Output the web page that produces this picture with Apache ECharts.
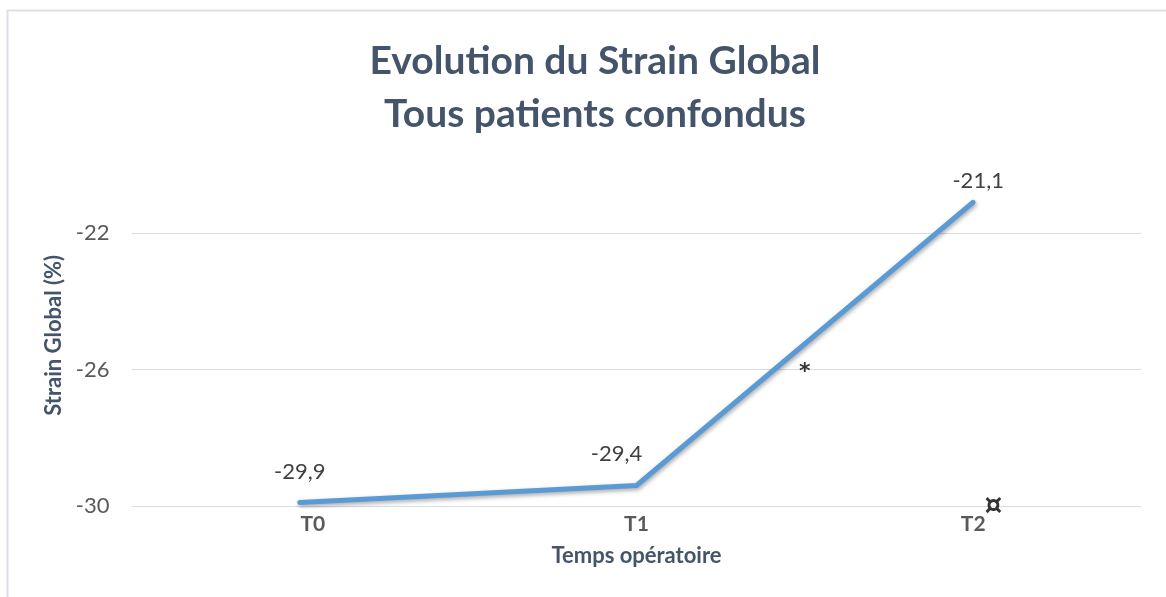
<!DOCTYPE html>
<html><head><meta charset="utf-8">
<script src="https://cdn.jsdelivr.net/npm/echarts@6/dist/echarts.min.js"></script>
<style>html,body{margin:0;padding:0;background:#fff}#c{width:1166px;height:597px}</style>
</head><body><div id="c"></div>
<script>
var categories = ['T0', 'T1', 'T2'];
var strainValues = [-29.9, -29.4, -21.1];
var yTicks = [-30, -26, -22];
var annotationX = [1.5, 2.06];
var annotationY = [-26, -30];
var annotationText = ['*', '¤'];
var titleText = 'Evolution du Strain Global\nTous patients confondus';
// style-only nudges
var labelOffsets = [[0, 0], [-20, -1], [5, 9]];
var catLabelPadding = [[0, 0, 0, 26], [0, 0, 0, 0], [0, 0, 0, 0]];
var annotationStyle = [{ size: 22, offset: [0, 3] }, { size: 28, offset: [0, 1] }];

var chart = echarts.init(document.getElementById('c'));
var font = 'Lato, "Open Sans", sans-serif';
chart.setOption({
  animation: false,
  backgroundColor: '#fff',
  title: {
    text: titleText, left: 590, top: 30, textAlign: 'center',
    textStyle: { fontFamily: font, fontWeight: 'bold', fontSize: 39, color: '#44546A', lineHeight: 53 }
  },
  graphic: [{ type: 'rect', shape: { x: 7.5, y: 10.5, width: 1200, height: 620 }, style: { fill: 'none', stroke: '#DCE0E6', lineWidth: 2 }, silent: true }],
  grid: { left: 131.5, right: 24.5, top: 164.75, bottom: 91, containLabel: false },
  xAxis: [{
    type: 'category', boundaryGap: true,
    data: categories.map(function (c, i) { return { value: c, textStyle: { padding: catLabelPadding[i] } }; }),
    axisLine: { show: false }, axisTick: { show: false },
    axisLabel: { color: '#595959', fontFamily: font, fontWeight: 'bold', fontSize: 21, margin: 8 },
    name: 'Temps opératoire', nameLocation: 'middle', nameGap: 39,
    nameTextStyle: { color: '#44546A', fontFamily: font, fontWeight: 'bold', fontSize: 22 }
  }, {
    type: 'value', min: -0.5, max: 2.5, show: false
  }],
  yAxis: {
    type: 'value', min: -30, max: -20, interval: 4,
    axisLine: { show: false }, axisTick: { show: false },
    axisLabel: { color: '#595959', fontFamily: font, fontSize: 22, margin: 22, showMaxLabel: false },
    splitLine: { lineStyle: { color: '#D9DEE6', width: 1 }, showMaxLine: false },
    name: 'Strain Global (%)', nameLocation: 'middle', nameGap: 59, nameRotate: 90,
    nameTextStyle: { color: '#44546A', fontFamily: font, fontWeight: 'bold', fontSize: 22 }
  },
  series: [{
    type: 'line', xAxisIndex: 0,
    data: strainValues.map(function (v, i) {
      return { value: v, label: { offset: labelOffsets[i] } };
    }),
    symbol: 'circle', symbolSize: 1, showSymbol: true,
    itemStyle: { color: 'rgba(0,0,0,0)' },
    lineStyle: { color: '#5B9BD5', width: 5, cap: 'round', join: 'round', shadowColor: 'rgba(0,0,0,0.35)', shadowBlur: 4, shadowOffsetX: 1, shadowOffsetY: 2 },
    label: { show: true, position: 'top', distance: 19, color: '#404040', fontFamily: font, fontSize: 22,
      formatter: function (p) { return String(p.value).replace('.', ','); } }
  }, {
    type: 'scatter', xAxisIndex: 1, symbolSize: 0,
    data: annotationX.map(function (x, i) {
      return { value: [x, annotationY[i]], name: annotationText[i],
        label: { fontSize: annotationStyle[i].size, offset: annotationStyle[i].offset } };
    }),
    label: { show: true, position: 'inside', color: '#000', fontFamily: '"DejaVu Sans", sans-serif', fontWeight: 'bold',
      formatter: function (p) { return p.name; } }
  }]
});
</script></body></html>
